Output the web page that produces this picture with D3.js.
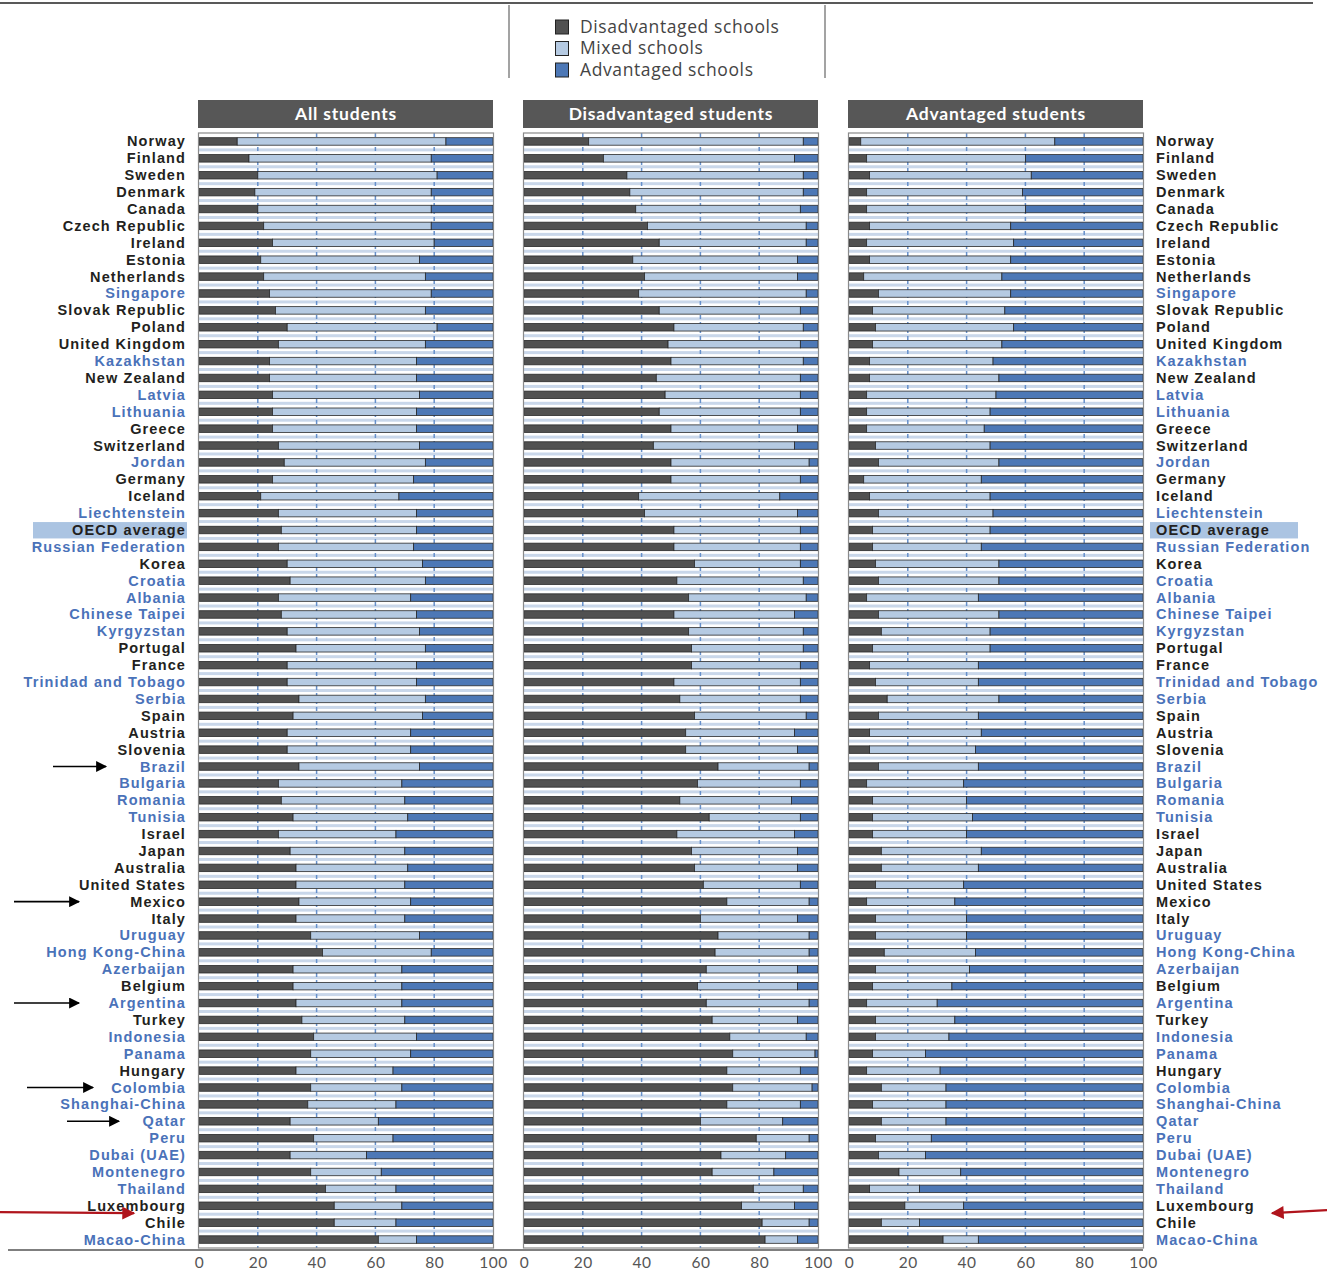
<!DOCTYPE html>
<html><head><meta charset="utf-8">
<script src="https://cdn.jsdelivr.net/npm/d3@7"></script>
<style>
html,body{margin:0;padding:0;background:#fff;}
svg{display:block;}
</style></head>
<body>
<svg id="chart" width="1327" height="1275"></svg>
<script>
// ---------------- DATA ----------------
const countries = ["Norway","Finland","Sweden","Denmark","Canada","Czech Republic","Ireland","Estonia","Netherlands","Singapore","Slovak Republic","Poland","United Kingdom","Kazakhstan","New Zealand","Latvia","Lithuania","Greece","Switzerland","Jordan","Germany","Iceland","Liechtenstein","OECD average","Russian Federation","Korea","Croatia","Albania","Chinese Taipei","Kyrgyzstan","Portugal","France","Trinidad and Tobago","Serbia","Spain","Austria","Slovenia","Brazil","Bulgaria","Romania","Tunisia","Israel","Japan","Australia","United States","Mexico","Italy","Uruguay","Hong Kong-China","Azerbaijan","Belgium","Argentina","Turkey","Indonesia","Panama","Hungary","Colombia","Shanghai-China","Qatar","Peru","Dubai (UAE)","Montenegro","Thailand","Luxembourg","Chile","Macao-China"];
const partners = ["Singapore","Kazakhstan","Latvia","Lithuania","Jordan","Liechtenstein","Russian Federation","Croatia","Albania","Chinese Taipei","Kyrgyzstan","Trinidad and Tobago","Serbia","Brazil","Bulgaria","Romania","Tunisia","Uruguay","Hong Kong-China","Azerbaijan","Argentina","Indonesia","Panama","Colombia","Shanghai-China","Qatar","Peru","Dubai (UAE)","Montenegro","Thailand","Macao-China"];
const seriesNames = ["Disadvantaged schools","Mixed schools","Advantaged schools"];
const panelTitles = ["All students","Disadvantaged students","Advantaged students"];
const tickValues = [0,20,40,60,80,100];

// All students
const allDis   = [13,17,20,19,20,22,25,21,22,24,26,30,27,24,24,25,25,25,27,29,25,21,27,28,27,30,31,27,28,30,33,30,30,34,32,30,30,34,27,28,32,27,31,33,33,34,33,38,42,32,32,33,35,39,38,33,38,37,31,39,31,38,43,46,46,61];
const allMixed = [71,62,61,60,59,57,55,54,55,55,51,51,50,50,50,50,49,49,48,48,48,47,47,46,46,46,46,45,46,45,44,44,44,43,44,42,42,41,42,42,39,40,39,38,37,38,37,37,37,37,37,36,35,35,34,33,31,30,30,27,26,24,24,23,21,13];
const allAdv   = [16,21,19,21,21,21,20,25,23,21,23,19,23,26,26,25,26,26,25,23,27,32,26,26,27,24,23,28,26,25,23,26,26,23,24,28,28,25,31,30,29,33,30,29,30,28,30,25,21,31,31,31,30,26,28,34,31,33,39,34,43,38,33,31,33,26];
// Disadvantaged students
const disDis   = [22,27,35,36,38,42,46,37,41,39,46,51,49,50,45,48,46,50,44,50,50,39,41,51,51,58,52,56,51,56,57,57,51,53,58,55,55,66,59,53,63,52,57,58,61,69,60,66,65,62,59,62,64,70,71,69,71,69,60,79,67,64,78,74,81,82];
const disMixed = [73,65,60,59,56,54,50,56,52,57,48,44,45,45,49,46,48,43,48,47,44,48,52,43,43,36,43,40,41,39,38,37,43,41,38,37,38,31,35,38,31,40,36,35,33,28,33,31,32,31,34,35,29,26,28,25,27,25,28,18,22,21,17,18,16,11];
const disAdv   = [5,8,5,5,6,4,4,7,7,4,6,5,6,5,6,6,6,7,8,3,6,13,7,6,6,6,5,4,8,5,5,6,6,6,4,8,7,3,6,9,6,8,7,7,6,3,7,3,3,7,7,3,7,4,1,6,2,6,12,3,11,15,5,8,3,7];
// Advantaged students
const advDis   = [4,6,7,6,6,7,6,7,5,10,8,9,8,7,7,6,6,6,9,10,5,7,10,8,8,9,10,6,10,11,8,7,9,13,10,7,7,10,6,8,8,8,11,11,9,6,9,9,12,9,8,6,9,9,8,6,11,8,11,9,10,17,7,19,11,32];
const advMixed = [66,54,55,53,54,48,50,48,47,45,45,47,44,42,44,44,42,40,39,41,40,41,39,40,37,42,41,38,41,37,40,37,35,38,34,38,36,34,33,32,34,32,34,33,30,30,31,31,31,32,27,24,27,25,18,25,22,25,22,19,16,21,17,20,13,12];
const advAdv   = [30,40,38,41,40,45,44,45,48,45,47,44,48,51,49,50,52,54,52,49,55,52,51,52,55,49,49,56,49,52,52,56,56,49,56,55,57,56,61,60,58,60,55,56,61,64,60,60,57,59,65,70,64,66,74,69,67,67,67,72,74,62,76,61,76,56];

const markedCountries = ["Brazil","Mexico","Argentina","Colombia","Qatar"];

// ---------------- LAYOUT ----------------
const svg = d3.select("#chart");
const colors = ["#515151","#b5cae2","#4d78b6"];
const labelFont = "Lato, 'Open Sans', sans-serif";
const countryFont = "'Liberation Sans', Arial, sans-serif";
const plotTop = 133, plotBottom = 1248;
const panelX = [199, 524, 849], panelW = 294;

const y = d3.scaleBand().domain(countries).range([plotTop, plotBottom]);
const barH = 7.5;

// top rule
svg.append("line").attr("x1",0).attr("x2",1313).attr("y1",3).attr("y2",3)
  .attr("stroke","#222").attr("stroke-width",1.6);

// legend
const lg = svg.append("g");
[509, 825].forEach(x => lg.append("line").attr("x1",x).attr("x2",x).attr("y1",5).attr("y2",78)
  .attr("stroke","#666").attr("stroke-width",1.2));
seriesNames.forEach((s,i) => {
  const cy = 27 + i*21.5;
  lg.append("rect").attr("x",555.5).attr("y",cy-7).attr("width",13).attr("height",14)
    .attr("fill",colors[i]).attr("stroke","#222").attr("stroke-width",1);
  lg.append("text").attr("x",580).attr("y",cy+5.5).text(s)
    .attr("font-family","'Open Sans', sans-serif").attr("font-size",17.5)
    .attr("letter-spacing",0.6).attr("fill","#444");
});

// OECD highlight
const oecdY = y("OECD average");
svg.append("rect").attr("x",33).attr("y",oecdY+0.5).attr("width",154).attr("height",y.bandwidth()-0.5).attr("fill","#abc4e2");
svg.append("rect").attr("x",1150).attr("y",oecdY+0.5).attr("width",148).attr("height",y.bandwidth()-0.5).attr("fill","#abc4e2");

// country labels
const isPartner = c => partners.includes(c);
function labels(x, anchor){
  svg.append("g").selectAll("text").data(countries).join("text")
    .attr("x",x).attr("y",d=>y(d)+y.bandwidth()/2+5)
    .attr("text-anchor",anchor)
    .attr("font-family",countryFont).attr("font-weight","bold").attr("font-size",14.5)
    .attr("letter-spacing",1.1)
    .attr("fill",d=>isPartner(d)?"#4a72b9":"#231f20")
    .text(d=>d);
}
labels(186,"end");
labels(1156,"start");

// panels
const panels = [
  {title:panelTitles[0], series:[allDis,allMixed,allAdv]},
  {title:panelTitles[1], series:[disDis,disMixed,disAdv]},
  {title:panelTitles[2], series:[advDis,advMixed,advAdv]}
];

panels.forEach((p,pi) => {
  const x0 = panelX[pi];
  const x = d3.scaleLinear().domain([0,100]).range([x0, x0+panelW]);
  const g = svg.append("g");

  // header
  g.append("rect").attr("x",x0-1).attr("y",100).attr("width",panelW+1).attr("height",28).attr("fill","#575757");
  g.append("text").attr("x",x0+panelW/2).attr("y",120).attr("text-anchor","middle")
    .attr("font-family",labelFont).attr("font-weight","bold").attr("font-size",17.5)
    .attr("letter-spacing",0.8).attr("fill","#fff").text(p.title);

  // row stripes between bars
  g.append("g").selectAll("rect").data(countries.slice(1)).join("rect")
    .attr("x",x0).attr("width",panelW)
    .attr("y",d=>y(d)-1.5).attr("height",3).attr("fill","#c9d7ea");

  // gridlines
  g.append("g").selectAll("line").data([20,40,60,80]).join("line")
    .attr("x1",d=>x(d)).attr("x2",d=>x(d)).attr("y1",plotTop).attr("y2",plotBottom)
    .attr("stroke","#6690cb").attr("stroke-width",1.5).attr("stroke-dasharray","4,3");

  // stacked bars
  const rows = countries.map((c,i) => ({c, v:[p.series[0][i], p.series[1][i], p.series[2][i]]}));
  rows.forEach(r => {
    let acc = 0;
    r.v.forEach((v,si) => {
      g.append("rect")
        .attr("x",x(acc)).attr("width",Math.max(0,x(acc+v)-x(acc)))
        .attr("y",y(r.c)+y.bandwidth()/2-barH/2).attr("height",barH)
        .attr("fill",colors[si]).attr("stroke","#2a2a2a").attr("stroke-width",0.8);
      acc += v;
    });
  });

  // frame
  g.append("rect").attr("x",x0-0.5).attr("y",plotTop).attr("width",panelW+1).attr("height",plotBottom-plotTop)
    .attr("fill","none").attr("stroke","#8a8a8a").attr("stroke-width",1.2);

  // axis
  const ax = g.append("g").attr("transform",`translate(0,${plotBottom+2})`)
    .call(d3.axisBottom(x).tickValues(tickValues).tickSize(0).tickPadding(7));
  ax.select(".domain").remove();
  ax.selectAll("text").attr("font-family",labelFont).attr("font-size",15.5)
    .attr("letter-spacing",0.5).attr("fill","#555");
});

// baseline
svg.append("line").attr("x1",8).attr("x2",1143).attr("y1",plotBottom+2).attr("y2",plotBottom+2)
  .attr("stroke","#555").attr("stroke-width",1.5);

// arrows
const defs = svg.append("defs");
defs.append("marker").attr("id","ahB").attr("viewBox","0 0 10 10").attr("refX",9).attr("refY",5)
  .attr("markerWidth",13).attr("markerHeight",11).attr("orient","auto").attr("markerUnits","userSpaceOnUse")
  .append("path").attr("d","M0,0 L10,5 L0,10 Z").attr("fill","#000");
defs.append("marker").attr("id","ahR").attr("viewBox","0 0 10 10").attr("refX",9).attr("refY",5)
  .attr("markerWidth",18).attr("markerHeight",13).attr("orient","auto").attr("markerUnits","userSpaceOnUse")
  .append("path").attr("d","M0,0 L10,5 L0,10 Z").attr("fill","#b0141c");

const arrowX = {"Brazil":[53,106],"Mexico":[14,79],"Argentina":[14,79],"Colombia":[27,93],"Qatar":[67,119]};
markedCountries.forEach(c => {
  const cy = y(c)+y.bandwidth()/2;
  const [a,b] = arrowX[c];
  svg.append("line").attr("x1",a).attr("x2",b).attr("y1",cy).attr("y2",cy)
    .attr("stroke","#000").attr("stroke-width",1.6).attr("marker-end","url(#ahB)");
});
const redY = y("Chile") - 2;
svg.append("line").attr("x1",0).attr("x2",134).attr("y1",redY).attr("y2",redY+1)
  .attr("stroke","#b0141c").attr("stroke-width",2.2).attr("marker-end","url(#ahR)");
svg.append("line").attr("x1",1327).attr("x2",1272).attr("y1",redY-2).attr("y2",redY+1)
  .attr("stroke","#b0141c").attr("stroke-width",2.2).attr("marker-end","url(#ahR)");
</script>
</body></html>
